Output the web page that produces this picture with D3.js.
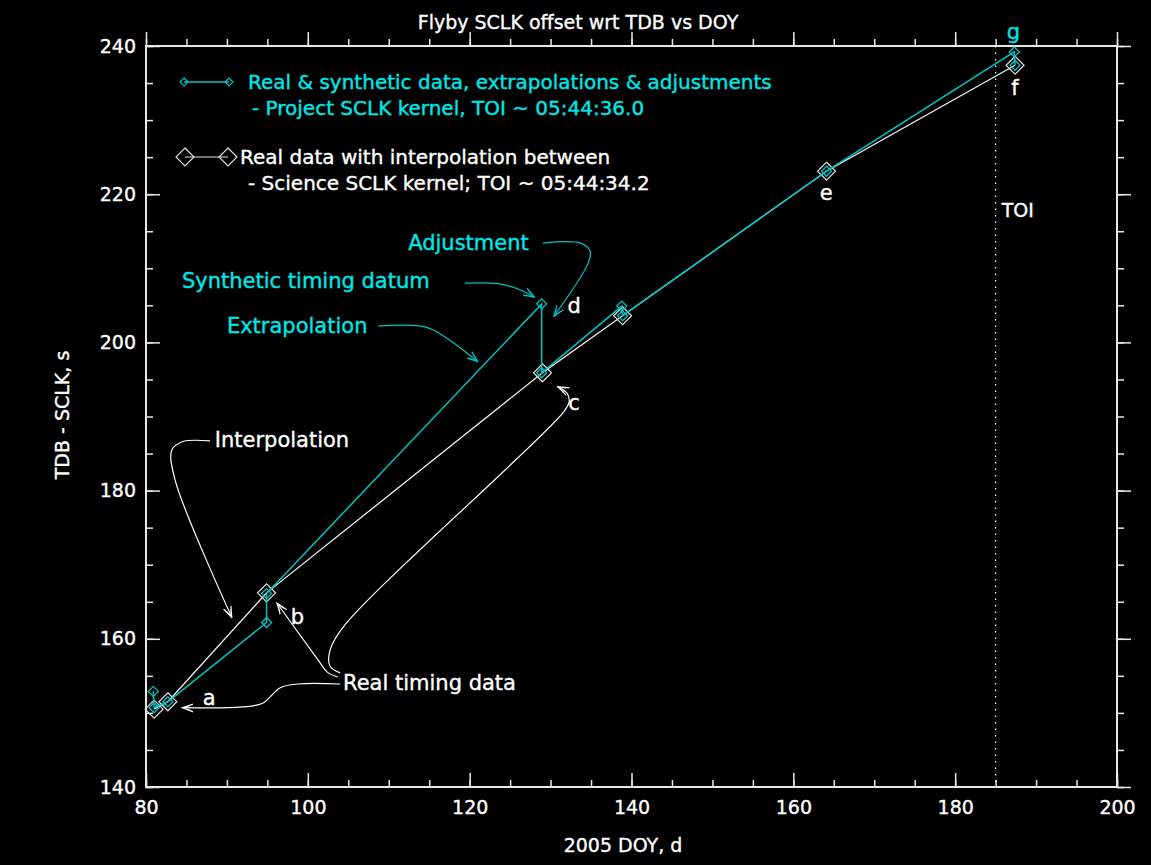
<!DOCTYPE html>
<html>
<head>
<meta charset="utf-8">
<script src="https://cdn.jsdelivr.net/npm/d3@7"></script>
<style>
  body { margin: 0; background: #000; }
  svg { display: block; font-family: "DejaVu Sans", sans-serif; }
  text { stroke: currentColor; stroke-width: 0.35px; }
</style>
</head>
<body>
<svg id="chart" width="1151" height="865"></svg>
<script>
// project kernel: real & synthetic data, extrapolations & adjustments
var projDoy = [80.9, 81.0, 82.7, 94.9, 94.9, 128.9, 128.9, 138.8, 138.9, 164.1, 187.3, 187.4];
var projOff = [152.9, 150.7, 151.5, 162.2, 166.1, 205.2, 195.9, 204.9, 203.6, 223.1, 239.2, 237.4];
// science kernel: real data with interpolation
var sciDoy = [81.0, 82.7, 94.9, 129.0, 138.9, 164.1, 187.4];
var sciOff = [150.5, 151.5, 166.2, 195.9, 203.6, 223.1, 237.4];

var xTicks = [80, 100, 120, 140, 160, 180, 200];
var yTicks = [140, 160, 180, 200, 220, 240];
var toiDoy = 185;

var pointNames = ['a', 'b', 'c', 'd', 'e', 'f', 'g'];
var pointNameDoy = [87.8, 98.7, 132.9, 132.9, 164.05, 187.4, 187.2];
var pointNameOff = [152.0, 162.9, 191.8, 204.9, 220.2, 234.3, 241.9];
var pointNameColor = ['w', 'w', 'w', 'w', 'w', 'w', 'c'];

var noteText = ['Adjustment', 'Synthetic timing datum', 'Extrapolation', 'Interpolation', 'Real timing data'];
var noteDoy = [112.4, 84.45, 90.0, 88.5, 104.35];
var noteOff = [213.4, 208.3, 202.2, 186.8, 154.0];
var noteColor = ['c', 'c', 'c', 'w', 'w'];

// leader lines, in data units
var leaders = [
  {c: 'c', pts: [[129.05, 213.4], [133.7, 213.4], [134.9, 212.3], [134.6, 210.6], [130.4, 203.5]]},
  {c: 'c', pts: [[119.4, 208.0], [123.7, 207.9], [126.2, 207.1], [128.0, 206.1]]},
  {c: 'c', pts: [[108.7, 202.2], [114.5, 202.1], [117.0, 200.7], [121.0, 197.4]]},
  {c: 'w', pts: [[87.9, 186.7], [84.5, 186.6], [83.2, 185.5], [83.6, 181.4], [90.6, 162.9]]},
  {c: 'w', pts: [[104.0, 153.9], [98.8, 153.9], [96.6, 153.4], [94.4, 151.3], [91.9, 150.8], [84.5, 150.7]]},
  {c: 'w', pts: [[103.7, 154.85], [102.4, 155.5], [101.3, 157.1], [96.2, 164.8]]},
  {c: 'w', pts: [[104.0, 155.4], [102.75, 156.3], [102.75, 158.5], [104.6, 161.9], [131.6, 190.6], [132.3, 192.0], [132.0, 193.2], [130.9, 194.0]]}
];

var CYAN_LINE = '#00c4c4', CYAN_TEXT = '#00e8e8', WHITE = '#ffffff';
function col(c, txt) { return c === 'c' ? (txt ? CYAN_TEXT : CYAN_LINE) : WHITE; }

var svg = d3.select('#chart');
var plotL = 146, plotR = 1117, plotT = 46, plotB = 787;

var x = d3.scaleLinear().domain([80, 200]).range([plotL, plotR]);
var y = d3.scaleLinear().domain([140, 240]).range([plotB, plotT]);

svg.append('rect').attr('width', 1151).attr('height', 865).attr('fill', '#000');

// defs for arrow heads
var defs = svg.append('defs');
['c', 'w'].forEach(function(k) {
  defs.append('marker')
    .attr('id', 'arr' + k)
    .attr('viewBox', '0 0 12 10')
    .attr('refX', 11).attr('refY', 5)
    .attr('markerWidth', 12).attr('markerHeight', 10)
    .attr('markerUnits', 'userSpaceOnUse')
    .attr('orient', 'auto')
    .append('path')
      .attr('d', 'M0,1 L11,5 L0,9 M3,2.5 L11,5 L3,7.5')
      .attr('fill', 'none')
      .attr('stroke', col(k))
      .attr('stroke-width', 1.2);
});

// axes: major + minor on all four sides, ticks pointing inward
function addAxis(gen, tr, vals, size, labels) {
  var g = svg.append('g').attr('transform', tr)
    .call(gen.tickValues(vals).tickSizeInner(size).tickSizeOuter(0).tickPadding(10)
      .tickFormat(labels ? d3.format('d') : ''));
  g.select('.domain').remove();
  g.selectAll('line').attr('stroke', '#e8e8e8').attr('stroke-width', 1.5);
  g.selectAll('text').attr('fill', WHITE).style('color', WHITE).style('font-size', '19px')
    .style('font-family', '"DejaVu Sans", sans-serif');
  return g;
}
var xMinor = d3.range(80, 201, 5), yMinor = d3.range(140, 241, 5);
addAxis(d3.axisBottom(x), 'translate(0,' + plotB + ')', xMinor, -7, false);
addAxis(d3.axisTop(x), 'translate(0,' + plotT + ')', xMinor, 7, false);
addAxis(d3.axisLeft(y), 'translate(' + plotL + ',0)', yMinor, -7, false);
addAxis(d3.axisRight(y), 'translate(' + plotR + ',0)', yMinor, 7, false);
addAxis(d3.axisBottom(x), 'translate(0,' + plotB + ')', xTicks, -14, true)
  .selectAll('text').attr('dy', '0.9em');
addAxis(d3.axisTop(x), 'translate(0,' + plotT + ')', xTicks, 14, false);
addAxis(d3.axisLeft(y), 'translate(' + plotL + ',0)', yTicks, -14, true);
addAxis(d3.axisRight(y), 'translate(' + plotR + ',0)', yTicks, 14, false);

svg.append('rect')
  .attr('x', plotL).attr('y', plotT)
  .attr('width', plotR - plotL).attr('height', plotB - plotT)
  .attr('fill', 'none').attr('stroke', '#e8e8e8').attr('stroke-width', 2);

// TOI dotted line
svg.append('line')
  .attr('x1', x(toiDoy)).attr('x2', x(toiDoy))
  .attr('y1', y(240)).attr('y2', y(140))
  .attr('stroke', WHITE).attr('stroke-width', 1.2)
  .attr('stroke-dasharray', '1.5,5');
svg.append('text')
  .attr('x', x(toiDoy) + 6).attr('y', y(217.9))
  .attr('dominant-baseline', 'central')
  .attr('fill', WHITE).style('color', WHITE).style('font-size', '19px')
  .text('TOI');

// series
var line = d3.line().x(function(d) { return x(d[0]); }).y(function(d) { return y(d[1]); });
var sci = d3.zip(sciDoy, sciOff);
var proj = d3.zip(projDoy, projOff);

function diamond(r) { return 'M0,' + (-r) + 'L' + r + ',0L0,' + r + 'L' + (-r) + ',0Z'; }

svg.append('path').datum(sci).attr('d', line)
  .attr('fill', 'none').attr('stroke', '#f0f0f0').attr('stroke-width', 1.3);
svg.selectAll('.sciPt').data(sci).enter().append('path')
  .attr('class', 'sciPt')
  .attr('transform', function(d) { return 'translate(' + x(d[0]) + ',' + y(d[1]) + ')'; })
  .attr('d', diamond(9))
  .attr('fill', 'none').attr('stroke', '#e0e0e0').attr('stroke-width', 1.2);

svg.append('path').datum(proj).attr('d', line)
  .attr('fill', 'none').attr('stroke', CYAN_LINE).attr('stroke-width', 1.5);
svg.selectAll('.projPt').data(proj).enter().append('path')
  .attr('class', 'projPt')
  .attr('transform', function(d) { return 'translate(' + x(d[0]) + ',' + y(d[1]) + ')'; })
  .attr('d', diamond(5))
  .attr('fill', 'none').attr('stroke', CYAN_LINE).attr('stroke-width', 1.3);

// leader lines
var leaderLine = d3.line()
  .x(function(d) { return x(d[0]); }).y(function(d) { return y(d[1]); })
  .curve(d3.curveCatmullRom.alpha(0.5));
svg.selectAll('.leader').data(leaders).enter().append('path')
  .attr('class', 'leader')
  .attr('d', function(d) { return leaderLine(d.pts); })
  .attr('fill', 'none')
  .attr('stroke', function(d) { return col(d.c); })
  .attr('stroke-width', 1.2)
  .attr('marker-end', function(d) { return 'url(#arr' + d.c + ')'; });

// annotation texts
svg.selectAll('.note').data(noteText).enter().append('text')
  .attr('class', 'note')
  .attr('x', function(d, i) { return x(noteDoy[i]); })
  .attr('y', function(d, i) { return y(noteOff[i]); })
  .attr('dominant-baseline', 'central')
  .attr('fill', function(d, i) { return col(noteColor[i], true); })
  .style('color', function(d, i) { return col(noteColor[i], true); })
  .style('font-size', '21px')
  .text(function(d) { return d; });

svg.selectAll('.pname').data(pointNames).enter().append('text')
  .attr('class', 'pname')
  .attr('x', function(d, i) { return x(pointNameDoy[i]); })
  .attr('y', function(d, i) { return y(pointNameOff[i]); })
  .attr('text-anchor', 'middle')
  .attr('dominant-baseline', 'central')
  .attr('fill', function(d, i) { return col(pointNameColor[i], true); })
  .style('color', function(d, i) { return col(pointNameColor[i], true); })
  .style('font-size', '21px')
  .text(function(d) { return d; });

// legend
var lg = svg.append('g');
lg.append('line').attr('x1', 184).attr('x2', 229).attr('y1', 82).attr('y2', 82)
  .attr('stroke', CYAN_LINE).attr('stroke-width', 1.3);
[184, 229].forEach(function(px) {
  lg.append('path').attr('transform', 'translate(' + px + ',82)').attr('d', diamond(4))
    .attr('fill', 'none').attr('stroke', CYAN_LINE).attr('stroke-width', 1.2);
});
lg.append('text').attr('x', 248).attr('y', 82).attr('dominant-baseline', 'central')
  .attr('fill', CYAN_TEXT).style('color', CYAN_TEXT).style('font-size', '20px')
  .text('Real & synthetic data, extrapolations & adjustments');
lg.append('text').attr('x', 252).attr('y', 108).attr('dominant-baseline', 'central')
  .attr('fill', CYAN_TEXT).style('color', CYAN_TEXT).style('font-size', '20px')
  .text('- Project SCLK kernel, TOI ~ 05:44:36.0');

lg.append('line').attr('x1', 185).attr('x2', 228).attr('y1', 157).attr('y2', 157)
  .attr('stroke', '#e0e0e0').attr('stroke-width', 1.2);
[185, 228].forEach(function(px) {
  lg.append('path').attr('transform', 'translate(' + px + ',157)').attr('d', diamond(9))
    .attr('fill', 'none').attr('stroke', '#e0e0e0').attr('stroke-width', 1.2);
});
lg.append('text').attr('x', 240).attr('y', 157).attr('dominant-baseline', 'central')
  .attr('fill', WHITE).style('color', WHITE).style('font-size', '20px')
  .text('Real data with interpolation between');
lg.append('text').attr('x', 248).attr('y', 183).attr('dominant-baseline', 'central')
  .attr('fill', WHITE).style('color', WHITE).style('font-size', '20px')
  .text('- Science SCLK kernel; TOI ~ 05:44:34.2');

// titles
svg.append('text').attr('x', 578).attr('y', 22)
  .attr('text-anchor', 'middle').attr('dominant-baseline', 'central')
  .attr('fill', WHITE).style('color', WHITE).style('font-size', '19px')
  .text('Flyby SCLK offset wrt TDB vs DOY');
svg.append('text').attr('x', 623).attr('y', 845)
  .attr('text-anchor', 'middle').attr('dominant-baseline', 'central')
  .attr('fill', WHITE).style('color', WHITE).style('font-size', '19px')
  .text('2005 DOY, d');
svg.append('text')
  .attr('transform', 'translate(62,415) rotate(-90)')
  .attr('text-anchor', 'middle').attr('dominant-baseline', 'central')
  .attr('fill', WHITE).style('color', WHITE).style('font-size', '19px')
  .text('TDB - SCLK, s');
</script>
</body>
</html>
